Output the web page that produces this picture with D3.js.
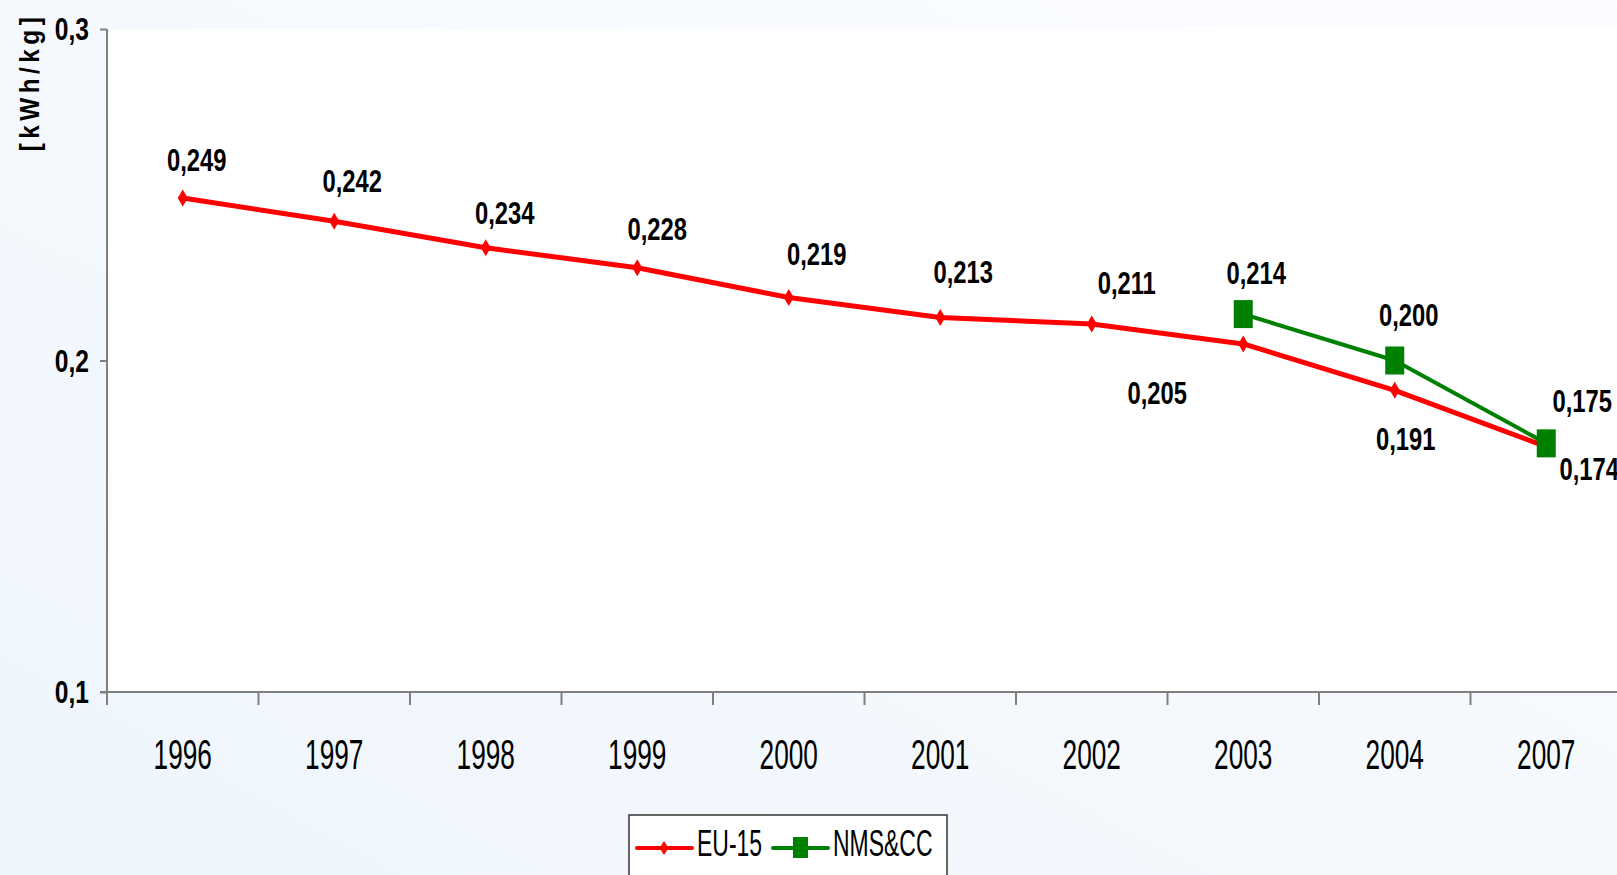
<!DOCTYPE html>
<html>
<head>
<meta charset="utf-8">
<script src="https://cdn.jsdelivr.net/npm/d3@7"></script>
<style>
  html, body { margin: 0; padding: 0; overflow: hidden; }
  svg { display: block; }
</style>
</head>
<body>
<div id="chart"></div>
<script>
(function() {
    const years = ["1996", "1997", "1998", "1999", "2000", "2001", "2002", "2003", "2004", "2007"];
    const eu15 = [0.249, 0.242, 0.234, 0.228, 0.219, 0.213, 0.211, 0.205, 0.191, 0.174];
    const nmsYears = ["2003", "2004", "2007"];
    const nmsCc = [0.214, 0.200, 0.175];
    const yTicks = [0.1, 0.2, 0.3];
    const seriesNames = ["EU-15", "NMS&CC"];

    // label placement (offset from the point), as Excel left them
    const euNudge = [[14, -38], [18, -41], [19, -35], [20, -39], [28, -44], [23, -46], [35, -41], [-86, 49], [11, 48], [43, 22]];
    const nmsNudge = [[13, -41], [14, -46], [36, -43]];

    const W = 1617, H = 875;
    const left = 107, top = 29, bottom = 692, right = 1622;
    // no narrow face installed: squeeze Liberation Sans like Arial Narrow
    const font = "'Liberation Sans', Arial, sans-serif";
    const nx = 0.82;
    const red = "#ff0000", green = "#008000", axisCol = "#7f7f7f";

    const svg = d3.select("#chart").append("svg")
        .attr("width", W).attr("height", H);

    const defs = svg.append("defs");
    const grad = defs.append("linearGradient").attr("id", "bg")
        .attr("x1", "100%").attr("y1", "0%").attr("x2", "0%").attr("y2", "100%");
    grad.append("stop").attr("offset", "0%").attr("stop-color", "#fcfdff");
    grad.append("stop").attr("offset", "100%").attr("stop-color", "#eef5fc");

    svg.append("rect").attr("width", W).attr("height", H).attr("fill", "url(#bg)");
    svg.append("rect").attr("x", left).attr("y", top)
        .attr("width", right - left).attr("height", bottom - top).attr("fill", "#fff");

    const x = d3.scaleBand().domain(years).range([left, right]);
    const y = d3.scaleLinear().domain([0.1, 0.3]).range([bottom, top]);
    const cx = d => x(d) + x.bandwidth() / 2;
    const fmt = v => d3.format(".3f")(v).replace(".", ",");

    // y axis
    const yAxis = svg.append("g")
        .attr("transform", `translate(${left},0)`)
        .call(d3.axisLeft(y).tickValues(yTicks).tickSize(7).tickFormat(""));
    yAxis.select(".domain").remove();
    yAxis.selectAll(".tick line").attr("stroke", axisCol).attr("stroke-width", 2);
    svg.append("g").selectAll("g")
        .data(yTicks)
        .join("g")
        .attr("transform", d => `translate(89,${y(d)}) scale(${nx},1.03)`)
        .append("text")
        .attr("text-anchor", "end").attr("dy", "0.36em")
        .style("font-family", font).style("font-size", "30px").style("font-weight", "bold")
        .text(d => d3.format(".1f")(d).replace(".", ","));
    svg.append("line")
        .attr("x1", left).attr("x2", left).attr("y1", top).attr("y2", bottom + 13)
        .attr("stroke", axisCol).attr("stroke-width", 2);

    // x axis with ticks between categories
    svg.append("line")
        .attr("x1", left - 7).attr("x2", right).attr("y1", bottom).attr("y2", bottom)
        .attr("stroke", axisCol).attr("stroke-width", 2);
    svg.append("g").selectAll("line")
        .data(years.slice(1))
        .join("line")
        .attr("x1", d => x(d)).attr("x2", d => x(d))
        .attr("y1", bottom).attr("y2", bottom + 13)
        .attr("stroke", axisCol).attr("stroke-width", 2);
    svg.append("g").selectAll("g")
        .data(years)
        .join("g")
        .attr("transform", d => `translate(${cx(d)},754) scale(${nx},1.3)`)
        .append("text")
        .attr("text-anchor", "middle").attr("dy", "0.36em")
        .style("font-family", font).style("font-size", "32px")
        .text(d => d);

    // y axis title
    svg.append("g")
        .attr("transform", "translate(29,82) rotate(-90) scale(0.9,1)")
        .append("text")
        .attr("text-anchor", "middle").attr("dy", "0.36em")
        .style("font-family", font).style("font-size", "27px").style("font-weight", "bold")
        .style("letter-spacing", "5px")
        .text("[kWh/kg]");

    const diamond = "M0,-8.5L5,0L0,8.5L-5,0Z";
    const euPts = years.map((d, i) => ({ x: cx(d), y: y(eu15[i]), v: eu15[i], n: euNudge[i] }));
    const nmsPts = nmsYears.map((d, i) => ({ x: cx(d), y: y(nmsCc[i]), v: nmsCc[i], n: nmsNudge[i] }));
    const line = d3.line().x(d => d.x).y(d => d.y);

    svg.append("path").datum(euPts).attr("d", line)
        .attr("fill", "none").attr("stroke", red).attr("stroke-width", 5)
        .attr("stroke-linejoin", "round");
    svg.append("g").selectAll("path").data(euPts).join("path")
        .attr("transform", d => `translate(${d.x},${d.y})`)
        .attr("d", diamond).attr("fill", red);

    svg.append("path").datum(nmsPts).attr("d", line)
        .attr("fill", "none").attr("stroke", green).attr("stroke-width", 4)
        .attr("stroke-linejoin", "round");
    svg.append("g").selectAll("rect").data(nmsPts).join("rect")
        .attr("x", d => d.x - 9.5).attr("y", d => d.y - 14)
        .attr("width", 19).attr("height", 28).attr("fill", green);

    // value labels
    svg.append("g").selectAll("g").data(euPts.concat(nmsPts)).join("g")
        .attr("transform", d => `translate(${d.x + d.n[0]},${d.y + d.n[1]}) scale(${nx},1.08)`)
        .append("text")
        .attr("text-anchor", "middle").attr("dy", "0.36em")
        .style("font-family", font).style("font-size", "29px").style("font-weight", "bold")
        .text(d => fmt(d.v));

    // legend
    const lg = svg.append("g");
    lg.append("rect").attr("x", 629).attr("y", 815).attr("width", 318).attr("height", 80)
        .attr("fill", "#fff").attr("stroke", "#333").attr("stroke-width", 1.5);
    const items = [
        { name: seriesNames[0], color: red, x0: 637, mark: "diamond" },
        { name: seriesNames[1], color: green, x0: 773, mark: "square" }
    ];
    items.forEach(it => {
        lg.append("line").attr("x1", it.x0).attr("x2", it.x0 + 55)
            .attr("y1", 848).attr("y2", 848)
            .attr("stroke", it.color).attr("stroke-width", 4).attr("stroke-linecap", "round");
        if (it.mark === "diamond") {
            lg.append("path").attr("transform", `translate(${it.x0 + 27},848)`)
                .attr("d", "M0,-7L4.5,0L0,7L-4.5,0Z").attr("fill", it.color);
        } else {
            lg.append("rect").attr("x", it.x0 + 20).attr("y", 837)
                .attr("width", 15).attr("height", 21).attr("fill", it.color);
        }
        lg.append("g").attr("transform", `translate(${it.x0 + 60},843) scale(${nx},1.3)`)
            .append("text").attr("dy", "0.36em")
            .style("font-family", font).style("font-size", "28px")
            .text(it.name);
    });
})();
</script>
</body>
</html>
